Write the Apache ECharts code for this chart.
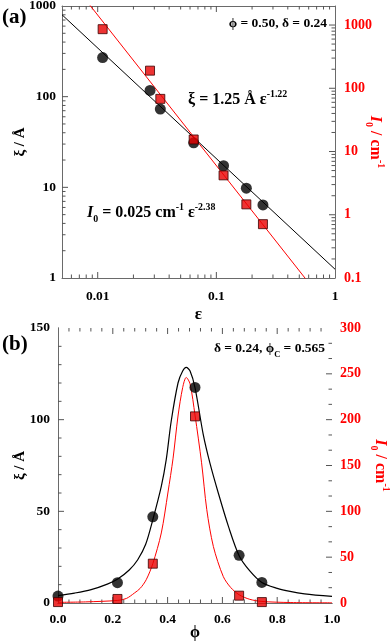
<!DOCTYPE html>
<html>
<head>
<meta charset="utf-8">
<script src="https://cdn.jsdelivr.net/npm/echarts@6/dist/echarts.min.js"></script>
<style>
  html, body { margin: 0; padding: 0; background: #fff; }
  #chart { width: 392px; height: 642px; }
</style>
</head>
<body>
<div id="chart"></div>
<script>
// panel (a): log-log, xi and I0 vs epsilon
const epsPoints = [0.011, 0.0276, 0.0337, 0.0644, 0.115, 0.179, 0.247]
const xiPoints = [270, 117, 73, 31, 17.3, 9.8, 6.4]
const i0Points = [860, 190, 68, 15.5, 4.2, 1.46, 0.71]
// fitted power laws, end points at the axis limits
const fitEps = [0.005, 1]
const xiFit = [801, 1.25]
const i0Fit = [7470, 0.025]

// panel (b): xi and I0 vs phi
const phiPoints = [0, 0.217, 0.346, 0.5, 0.661, 0.744]
const xiPhiPoints = [3.8, 11.1, 47, 117.6, 26, 11.2]
const i0PhiPoints = [1, 4.4, 42.9, 203.6, 8, 1]
// fit curves
const xiCurvePhi = [0, 0.06, 0.121, 0.18, 0.218, 0.26, 0.291, 0.32, 0.346, 0.377, 0.395, 0.413, 0.438, 0.455, 0.468, 0.482, 0.5, 0.53, 0.555, 0.585, 0.622, 0.661, 0.7, 0.744, 0.8, 0.847, 0.9, 1.0]
const xiCurve = [4.0, 5.4, 7.3, 10.3, 13.1, 18, 23.6, 32, 45.4, 63.6, 78.2, 99, 120, 126.5, 128.5, 126.5, 117.5, 92, 76, 60, 41.8, 25.8, 17.5, 11.2, 8, 6.3, 5, 3.6]
const i0CurvePhi = [0, 0.1, 0.218, 0.25, 0.279, 0.3, 0.322, 0.346, 0.377, 0.401, 0.42, 0.438, 0.455, 0.468, 0.482, 0.5, 0.524, 0.543, 0.567, 0.603, 0.63, 0.661, 0.7, 0.744, 0.85, 1.0]
const i0Curve = [0.7, 1.2, 2.8, 5, 10.9, 16, 25.4, 42.9, 76.4, 120, 158, 204, 235, 246, 239, 205, 153, 101.8, 61.7, 29, 17, 9, 4, 1.7, 0.5, 0.2]

// tick positions
const digits = [2, 3, 4, 5, 6, 7, 8, 9]
const decades = (list) => list.flatMap(d => digits.map(k => +(k * d).toPrecision(3)))
const epsMajor = [0.01, 0.1]
const epsMinor = [0.006, 0.007, 0.008, 0.009].concat(decades([0.01, 0.1]))
const xiLogMajor = [10, 100]
const xiLogMinor = decades([1, 10, 100])
const i0LogMajor = [1, 10, 100, 1000]
const i0LogMinor = decades([0.1, 1, 10, 100])
const phiMajor = [0.2, 0.4, 0.6, 0.8]
const phiMinor = [0.04, 0.08, 0.12, 0.16, 0.24, 0.28, 0.32, 0.36, 0.44, 0.48, 0.52, 0.56, 0.64, 0.68, 0.72, 0.76, 0.84, 0.88, 0.92, 0.96]
const xiLinMajor = [50, 100]
const xiLinMinor = [10, 20, 30, 40, 60, 70, 80, 90, 110, 120, 130, 140]
const i0LinMajor = [50, 100, 150, 200, 250]
const i0LinMinor = [16.7, 33.3, 66.7, 83.3, 116.7, 133.3, 166.7, 183.3, 216.7, 233.3, 266.7, 283.3]

const serif = 'Liberation Serif'
const RED = '#ff0000'
const GREY = '#6a6a6a'
const TICK = '#555555'

const zip = (xs, ys) => xs.map((x, i) => [x, ys[i]])
const logLabel = v => String(+(+v).toPrecision(4))

const labelStyle = (color) => ({
  color: color,
  fontFamily: serif,
  fontWeight: 'bold',
  fontSize: 13.5
})

const richText = (color, size) => ({
  b: { color: color, fontFamily: serif, fontWeight: 'bold', fontSize: size },
  i: { color: color, fontFamily: serif, fontWeight: 'bold', fontStyle: 'italic', fontSize: size },
  sub: { color: color, fontFamily: serif, fontWeight: 'bold', fontSize: size * 0.62, verticalAlign: 'bottom', padding: [0, 0, -3, 0] },
  sup: { color: color, fontFamily: serif, fontWeight: 'bold', fontSize: size * 0.62, verticalAlign: 'top', padding: [-3, 0, 0, 0] }
})

function frameAxis(extra) {
  return Object.assign({
    nameMoveOverlap: false,
    axisLine: { show: true, lineStyle: { color: GREY, width: 1 } },
    axisTick: { show: false },
    minorTick: { show: false },
    splitLine: { show: false },
    minorSplitLine: { show: false }
  }, extra)
}

// inward tick marks drawn through the axes' own scales
// side: 'bottom' | 'top' | 'left' | 'right'; at: the fixed value on the other axis
function tickSeries(xi, yi, side, values, at, len) {
  const vertical = side === 'bottom' || side === 'top'
  return {
    type: 'custom', xAxisIndex: xi, yAxisIndex: yi, silent: true, clip: false, z: 1,
    data: values.map(v => vertical ? [v, at] : [at, v]),
    renderItem: (params, api) => {
      const p = api.coord([api.value(0), api.value(1)])
      const d = { bottom: [0, -len], top: [0, len], left: [len, 0], right: [-len, 0] }[side]
      return {
        type: 'line',
        shape: { x1: p[0], y1: p[1], x2: p[0] + d[0], y2: p[1] + d[1] },
        style: { stroke: TICK, lineWidth: 1 }
      }
    }
  }
}

const tickSet = (xi, yi, side, major, minor, at) => [
  tickSeries(xi, yi, side, major, at, 6),
  tickSeries(xi, yi, side, minor, at, 3.5)
]

const chart = echarts.init(document.getElementById('chart'))

const option = {
  animation: false,
  backgroundColor: '#fff',
  grid: [
    { left: 62, right: 57, top: 6, height: 272, containLabel: false, outerBoundsMode: 'none' },
    { left: 58, right: 60, top: 328, height: 275, containLabel: false, outerBoundsMode: 'none' }
  ],
  xAxis: [
    frameAxis({
      type: 'log', gridIndex: 0, min: 0.005, max: 1, position: 'bottom',
      axisLabel: Object.assign(labelStyle('#000'), { showMinLabel: false, margin: 12, formatter: logLabel }),
      name: '{b|ε}', nameLocation: 'middle', nameGap: 28,
      nameTextStyle: { rich: richText('#000', 17) }
    }),
    frameAxis({
      type: 'log', gridIndex: 0, min: 0.005, max: 1, position: 'top',
      axisLabel: { show: false }
    }),
    frameAxis({
      type: 'value', gridIndex: 1, min: 0, max: 1, interval: 0.2, position: 'bottom',
      axisLabel: Object.assign(labelStyle('#000'), { margin: 10, formatter: v => v.toFixed(1) }),
      name: '{b|ϕ}', nameLocation: 'middle', nameGap: 22,
      nameTextStyle: { rich: richText('#000', 16) }
    }),
    frameAxis({
      type: 'value', gridIndex: 1, min: 0, max: 1, interval: 0.2, position: 'top',
      axisLabel: { show: false }
    })
  ],
  yAxis: [
    frameAxis({
      type: 'log', gridIndex: 0, min: 1, max: 1000, position: 'left',
      axisLabel: Object.assign(labelStyle('#000'), { margin: 6, formatter: logLabel }),
      name: '{b|ξ / Å}', nameLocation: 'middle', nameGap: 34, nameRotate: 90,
      nameTextStyle: { rich: richText('#000', 15) }
    }),
    frameAxis({
      type: 'log', gridIndex: 0, min: 0.1, max: 2000, position: 'right',
      axisLabel: Object.assign(labelStyle(RED), { showMaxLabel: false, margin: 9, fontSize: 14, formatter: logLabel }),
      name: '{i|I}{sub|0}{b| / cm}{sup|-1}', nameLocation: 'middle', nameGap: 32, nameRotate: -90,
      nameTextStyle: { rich: richText(RED, 16) }
    }),
    frameAxis({
      type: 'value', gridIndex: 1, min: 0, max: 150, interval: 50, position: 'left',
      axisLabel: Object.assign(labelStyle('#000'), { margin: 8 }),
      name: '{b|ξ / Å}', nameLocation: 'middle', nameGap: 30, nameRotate: 90,
      nameTextStyle: { rich: richText('#000', 15) }
    }),
    frameAxis({
      type: 'value', gridIndex: 1, min: 0, max: 300, interval: 50, position: 'right',
      axisLabel: Object.assign(labelStyle(RED), { margin: 8, fontSize: 14 }),
      name: '{i|I}{sub|0}{b| / cm}{sup|-1}', nameLocation: 'middle', nameGap: 40, nameRotate: -90,
      nameTextStyle: { rich: richText(RED, 16) }
    })
  ],
  series: [
    ...tickSet(0, 0, 'bottom', epsMajor, epsMinor, 1),
    ...tickSet(0, 0, 'top', epsMajor, epsMinor, 1000),
    ...tickSet(0, 0, 'left', xiLogMajor, xiLogMinor, 0.005),
    ...tickSet(0, 1, 'right', i0LogMajor, i0LogMinor, 1),
    ...tickSet(2, 2, 'bottom', phiMajor, phiMinor, 0),
    ...tickSet(2, 2, 'top', phiMajor, phiMinor, 150),
    ...tickSet(2, 2, 'left', xiLinMajor, xiLinMinor, 0),
    ...tickSet(2, 3, 'right', i0LinMajor, i0LinMinor, 1),
    {
      type: 'line', xAxisIndex: 0, yAxisIndex: 0, data: zip(fitEps, xiFit),
      symbol: 'none', clip: true, lineStyle: { color: '#000', width: 1 }, z: 2
    },
    {
      type: 'line', xAxisIndex: 0, yAxisIndex: 1, data: zip(fitEps, i0Fit),
      symbol: 'none', clip: true, lineStyle: { color: RED, width: 1 }, z: 2
    },
    {
      type: 'scatter', xAxisIndex: 0, yAxisIndex: 0, data: zip(epsPoints, xiPoints),
      symbol: 'circle', symbolSize: 11, itemStyle: { color: '#000' }, z: 4
    },
    {
      type: 'scatter', xAxisIndex: 0, yAxisIndex: 1, data: zip(epsPoints, i0Points),
      symbol: 'rect', symbolSize: 9, itemStyle: { color: '#e80000', borderColor: '#3a0000', borderWidth: 1 }, z: 5
    },
    {
      type: 'line', xAxisIndex: 2, yAxisIndex: 2, data: zip(xiCurvePhi, xiCurve),
      symbol: 'none', smooth: 0.3, clip: true, lineStyle: { color: '#000', width: 1.2 }, z: 2
    },
    {
      type: 'line', xAxisIndex: 2, yAxisIndex: 3, data: zip(i0CurvePhi, i0Curve),
      symbol: 'none', smooth: 0.3, clip: true, lineStyle: { color: RED, width: 1 }, z: 2
    },
    {
      type: 'scatter', xAxisIndex: 2, yAxisIndex: 2, data: zip(phiPoints, xiPhiPoints),
      symbol: 'circle', symbolSize: 11, itemStyle: { color: '#000' }, z: 4
    },
    {
      type: 'scatter', xAxisIndex: 2, yAxisIndex: 3, data: zip(phiPoints, i0PhiPoints),
      symbol: 'rect', symbolSize: 9, itemStyle: { color: '#e80000', borderColor: '#3a0000', borderWidth: 1 }, z: 5
    }
  ],
  graphic: [
    {
      type: 'text', x: 2, y: 18,
      style: { text: '(a)', font: 'bold 21px "Liberation Serif"', fill: '#000', verticalAlign: 'middle' }
    },
    {
      type: 'text', x: 2, y: 345,
      style: { text: '(b)', font: 'bold 21px "Liberation Serif"', fill: '#000', verticalAlign: 'middle' }
    },
    {
      type: 'text', x: 327, y: 24,
      style: {
        text: '{b|ϕ = 0.50, δ = 0.24}', align: 'right', verticalAlign: 'middle',
        rich: richText('#000', 13.5)
      }
    },
    {
      type: 'text', x: 188, y: 100,
      style: {
        text: '{b|ξ = 1.25 Å ε}{sup|-1.22}', align: 'left', verticalAlign: 'middle',
        rich: richText('#000', 16)
      }
    },
    {
      type: 'text', x: 87, y: 213,
      style: {
        text: '{i|I}{sub|0}{b| = 0.025 cm}{sup|-1}{b| ε}{sup|-2.38}', align: 'left', verticalAlign: 'middle',
        rich: richText(RED, 16)
      }
    },
    {
      type: 'text', x: 325, y: 349,
      style: {
        text: '{b|δ = 0.24, ϕ}{sub|C}{b| = 0.565}', align: 'right', verticalAlign: 'middle',
        rich: richText('#000', 13.5)
      }
    }
  ]
}

chart.setOption(option)
</script>
</body>
</html>
